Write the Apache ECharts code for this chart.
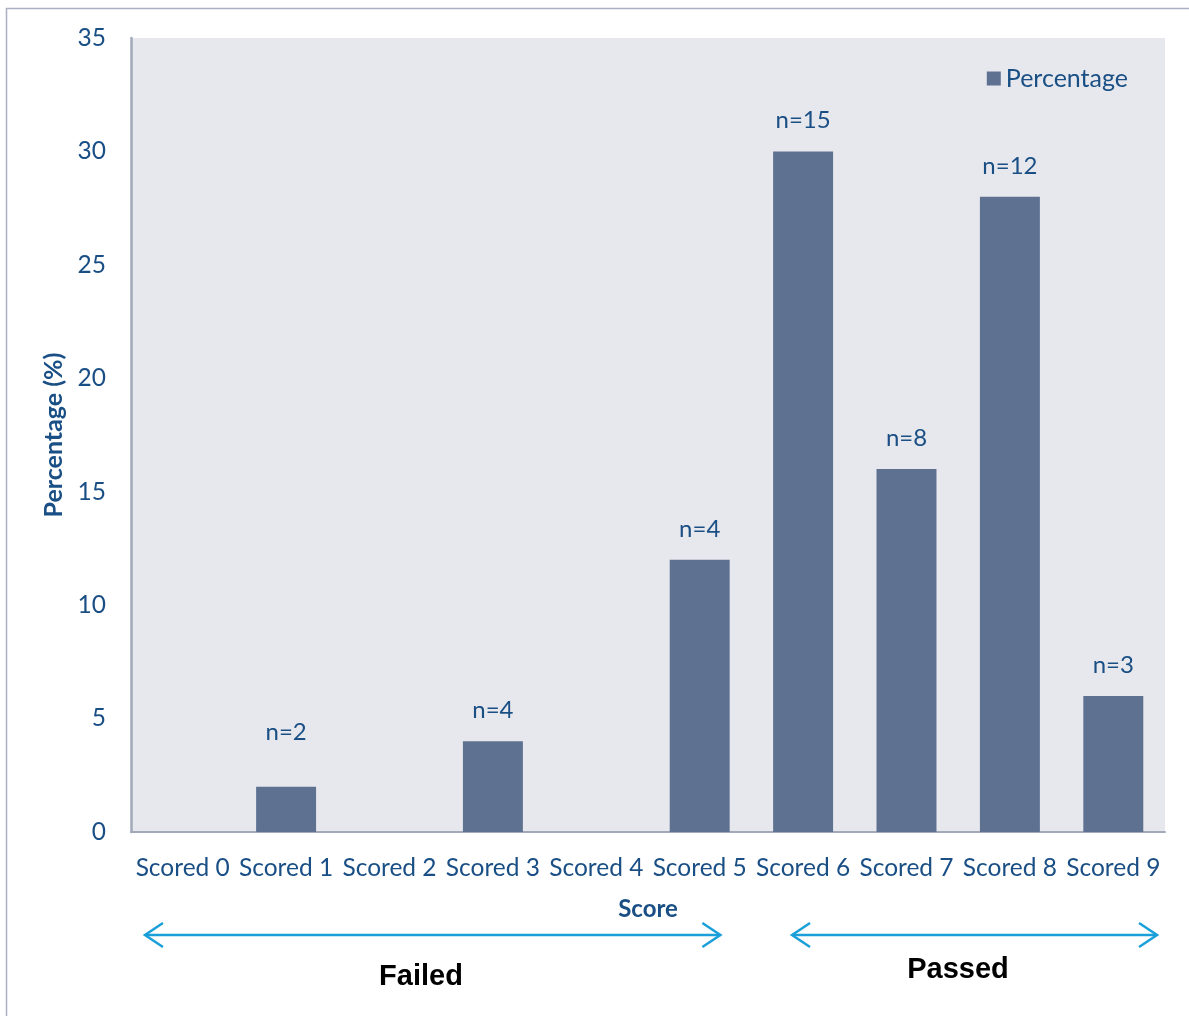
<!DOCTYPE html>
<html>
<head>
<meta charset="utf-8">
<script src="https://cdn.jsdelivr.net/npm/echarts@6/dist/echarts.min.js"></script>
<style>
  html, body { margin: 0; padding: 0; background: #ffffff; }
  #chart { width: 1189px; height: 1016px; }
</style>
</head>
<body>
<div id="chart"></div>
<script>
// Score categories and the share of respondents in each
const categories = ['Scored 0', 'Scored 1', 'Scored 2', 'Scored 3', 'Scored 4',
                    'Scored 5', 'Scored 6', 'Scored 7', 'Scored 8', 'Scored 9'];
const percentage = [0, 2, 0, 4, 0, 12, 30, 16, 28, 6];
// Head counts shown above the bars (null = no label)
const counts = [null, 2, null, 4, null, 4, 15, 8, 12, 3];
const yTicks = [0, 5, 10, 15, 20, 25, 30, 35];
// Outcome bands along the score axis, in category units
const failedSpan = [-0.365, 5.2];
const passedSpan = [5.893, 9.423];

const TEXT = '#1a4f85';
const FONT = 'Lato, "Open Sans", sans-serif';
const ARROW = '#1a9fd9';

const chart = echarts.init(document.getElementById('chart'), null, { renderer: 'canvas' });

const barData = percentage.map((v, i) => ({
  value: v,
  label: {
    show: counts[i] !== null,
    distance: i === 1 ? 42 : 19
  }
}));

chart.setOption({
  animation: false,
  backgroundColor: '#ffffff',
  grid: { left: 131, right: 24, top: 38, bottom: 184, show: true,
          backgroundColor: '#e7e8ed', borderWidth: 0 },
  legend: {
    data: ['Percentage'],
    right: 56, top: 61,
    icon: 'rect', itemWidth: 14, itemHeight: 14, itemGap: 7,
    textStyle: { color: TEXT, fontSize: 25, fontFamily: FONT }
  },
  xAxis: {
    type: 'category',
    data: categories,
    name: 'Score',
    nameLocation: 'middle',
    nameGap: 65,
    nameTextStyle: { color: TEXT, fontSize: 24, fontWeight: 'bold', fontFamily: FONT },
    axisLine: { lineStyle: { color: '#a2a9b8', width: 2 } },
    axisTick: { show: false },
    axisLabel: { color: TEXT, fontSize: 24.5, fontFamily: FONT, margin: 24, interval: 0 }
  },
  yAxis: {
    type: 'value',
    min: 0, max: 35, interval: 5,
    name: 'Percentage (%)',
    nameLocation: 'middle',
    nameGap: 57,
    nameTextStyle: { color: TEXT, fontSize: 25, fontWeight: 'bold', fontFamily: FONT },
    axisLine: { show: true, lineStyle: { color: '#a2a9b8', width: 2.5 } },
    axisTick: { show: false },
    splitLine: { show: false },
    axisLabel: {
      color: TEXT, fontSize: 24.5, fontFamily: FONT, margin: 25,
      formatter: v => (yTicks.indexOf(v) >= 0 ? String(v) : '')
    }
  },
  series: [{
    name: 'Percentage',
    type: 'bar',
    data: barData,
    barCategoryGap: '42%',
    itemStyle: { color: '#5f7191' },
    label: {
      position: 'top',
      color: TEXT, fontSize: 24, fontFamily: FONT,
      formatter: p => 'n=' + counts[p.dataIndex]
    }
  }]
});

// Outcome arrows and captions under the score axis
function catToPx(c) {
  const p0 = chart.convertToPixel({ xAxisIndex: 0 }, 0);
  const p1 = chart.convertToPixel({ xAxisIndex: 0 }, 1);
  return p0 + (p1 - p0) * c;
}
function doubleArrow(x1, x2, y) {
  const h = 12, w = 18;
  return [
    { type: 'line', shape: { x1: x1, y1: y, x2: x2, y2: y },
      style: { stroke: ARROW, lineWidth: 2.5 } },
    { type: 'polyline', shape: { points: [[x1 + w, y - h], [x1, y], [x1 + w, y + h]] },
      style: { stroke: ARROW, lineWidth: 2.5, fill: null } },
    { type: 'polyline', shape: { points: [[x2 - w, y - h], [x2, y], [x2 - w, y + h]] },
      style: { stroke: ARROW, lineWidth: 2.5, fill: null } }
  ];
}
const fx1 = catToPx(failedSpan[0]), fx2 = catToPx(failedSpan[1]);
const px1 = catToPx(passedSpan[0]), px2 = catToPx(passedSpan[1]);
const arrowY = 935;

chart.setOption({
  graphic: [
    { type: 'rect', silent: true, z: -1,
      shape: { x: 6.5, y: 8.5, width: 1300, height: 1200 },
      style: { fill: null, stroke: '#a8b0c2', lineWidth: 1.5 } },
    ...doubleArrow(fx1, fx2, arrowY),
    ...doubleArrow(px1, px2, arrowY),
    { type: 'text', x: 421, y: 977,
      style: { text: 'Failed', fill: '#000', fontSize: 29, fontWeight: 'bold',
               fontFamily: '"Liberation Sans", Arial, sans-serif',
               align: 'center', verticalAlign: 'middle' } },
    { type: 'text', x: 958, y: 970,
      style: { text: 'Passed', fill: '#000', fontSize: 29, fontWeight: 'bold',
               fontFamily: '"Liberation Sans", Arial, sans-serif',
               align: 'center', verticalAlign: 'middle' } }
  ]
});
</script>
</body>
</html>
